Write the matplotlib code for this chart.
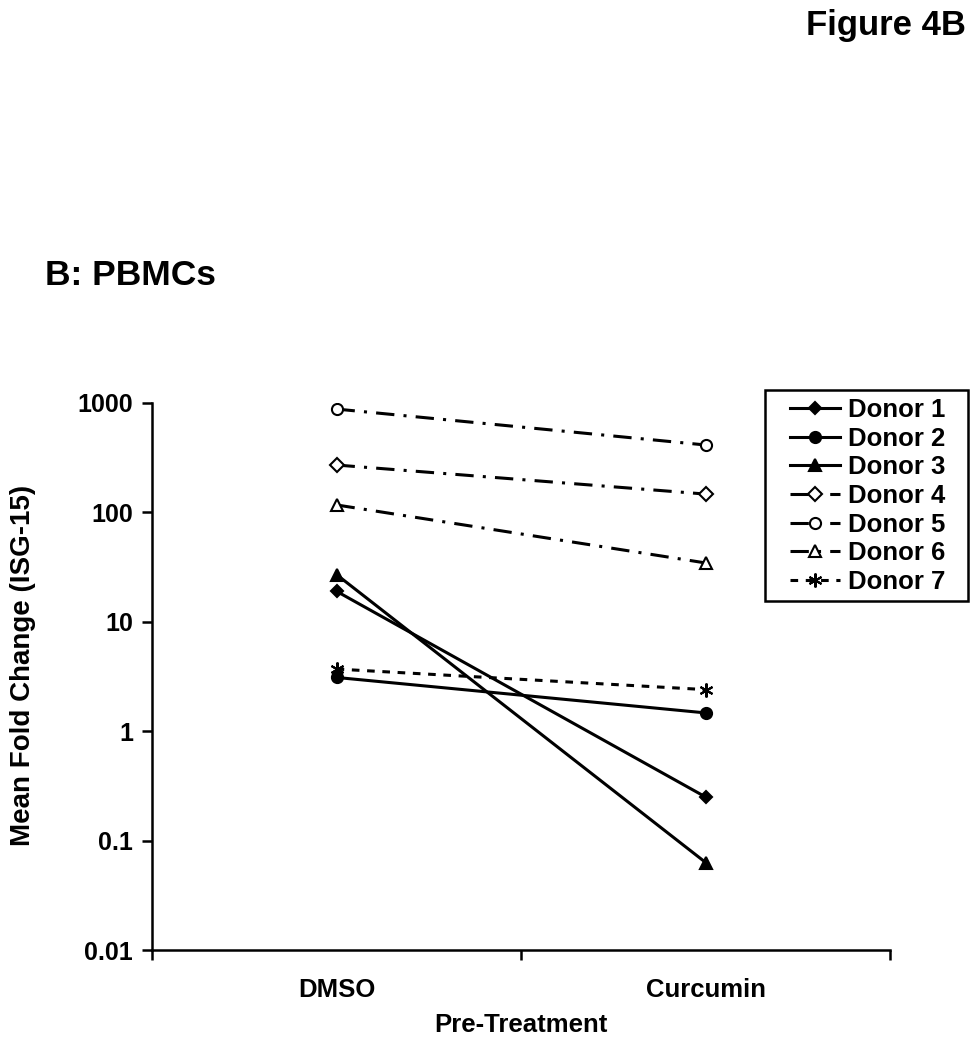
import matplotlib.pyplot as plt
from matplotlib.patches import Rectangle
import numpy as np

plt.rcParams['font.family'] = ['Liberation Sans', 'DejaVu Sans']
plt.rcParams['font.weight'] = 'bold'

# Data
categories = ["DMSO", "Curcumin"]
donors = ["Donor 1", "Donor 2", "Donor 3", "Donor 4", "Donor 5", "Donor 6", "Donor 7"]
donor1 = [19, 0.25]
donor2 = [3.1, 1.47]
donor3 = [27, 0.063]
donor4 = [271, 147]
donor5 = [880, 413]
donor6 = [117, 34.5]
donor7 = [3.7, 2.4]
values = [donor1, donor2, donor3, donor4, donor5, donor6, donor7]

markers = ["D", "o", "^", "D", "o", "^", (6, 2, 0)]
fills = ["black", "black", "black", "white", "white", "white", "black"]
msizes = [6, 8, 9, 7, 8, 9, 10]
dashdot = (0, (6, 3, 1, 3))
styles = ["-", "-", "-", dashdot, dashdot, dashdot, (0, (2.5, 2.5))]

fig = plt.figure(figsize=(9.78, 10.5), dpi=100)
ax = fig.add_axes([0.1554, 0.0952, 0.755, 0.521])

x = np.array([0.5, 1.5])
for name, vals, m, fc, ms, ls in zip(donors, values, markers, fills, msizes, styles):
    ax.plot(x, vals, color="black", linestyle=ls, linewidth=2.2, marker=m,
            markersize=ms, markerfacecolor=fc, markeredgecolor="black",
            markeredgewidth=1.5, label=name)

ax.set_yscale("log")
ax.set_ylim(0.01, 1000)
ax.set_yticks([0.01, 0.1, 1, 10, 100, 1000])
ax.set_yticklabels(["0.01", "0.1", "1", "10", "100", "1000"])
ax.yaxis.set_minor_locator(plt.NullLocator())
ax.set_xlim(0, 2)
ax.set_xticks([0, 1, 2])
ax.set_xticklabels([])
ax.set_xticks(x, minor=True)
ax.set_xticklabels(categories, minor=True)
ax.tick_params(axis="x", which="minor", length=0, pad=20, labelsize=18.5)
ax.tick_params(axis="both", which="major", direction="out", length=7.5, width=1.8, labelsize=18)
ax.tick_params(axis="y", which="major", pad=6)

for s in ["top", "right"]:
    ax.spines[s].set_visible(False)
for s in ["left", "bottom"]:
    ax.spines[s].set_linewidth(1.8)

ax.set_ylabel("Mean Fold Change (ISG-15)", fontsize=20, fontweight="bold")
ax.yaxis.set_label_coords(-0.157, 0.52)
ax.set_xlabel("Pre-Treatment", fontsize=18.5, fontweight="bold", labelpad=8)

# legend without its own frame; box drawn separately to get the wider side padding
leg = ax.legend(loc="upper left", bbox_to_anchor=(0.8078, 0.6208),
                bbox_transform=fig.transFigure, frameon=False,
                fontsize=18.5, handlelength=1.95, labelspacing=0.18,
                borderpad=0, handletextpad=0.3, borderaxespad=0)
for t in leg.get_texts():
    t.set_fontweight("bold")
fig.patches.append(Rectangle((0.7822, 0.4276), 0.2076, 0.201, transform=fig.transFigure,
                             fill=False, edgecolor="black", linewidth=1.8))

fig.text(0.988, 0.976, "Figure 4B", ha="right", va="center", fontsize=25, fontweight="bold")
fig.text(0.046, 0.738, "B: PBMCs", ha="left", va="center", fontsize=25.5, fontweight="bold")

fig.savefig("out.png", dpi=100)
